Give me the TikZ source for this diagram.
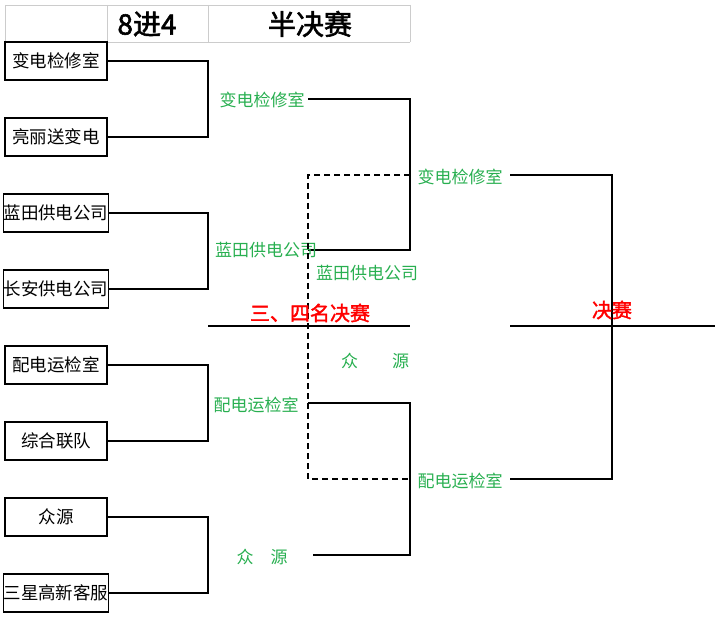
\documentclass[tikz,border=0pt]{standalone}
\usepackage{fontspec}
\setmainfont{Noto Sans CJK SC}[AutoFakeBold=2]
\usetikzlibrary{positioning}
\definecolor{win}{RGB}{40,175,80}
\tikzset{team/.style={draw,line width=1.2pt,minimum width=102pt,minimum height=38pt,inner sep=0pt,font=\fontsize{17.5}{19}\selectfont},
         lab/.style={text=win,font=\fontsize{17}{19}\selectfont,inner sep=1pt},
         head/.style={font=\fontsize{28}{30}\selectfont\bfseries},
         redlab/.style={text=red,font=\fontsize{20}{22}\selectfont\bfseries}}
\begin{document}
\begin{tikzpicture}[x=1pt,y=-1pt,line width=1.2pt]
\useasboundingbox (0,0) rectangle (723,620);
\draw[gray!40,line width=0.6pt] (5,5)--(410,5) (5,42)--(410,42) (107,5)--(107,42) (208,5)--(208,42) (410,5)--(410,42) (5,5)--(5,42);
\node[head] (h1) at (147,24) {8进4};
\node[head] (h2) at (310,24) {半决赛};

\node[team] (t1) at (56,61) {变电检修室};
\node[team] (t2) at (56,137) {亮丽送变电};
\node[team] (t3) at (56,213) {蓝田供电公司};
\node[team] (t4) at (56,289) {长安供电公司};
\node[team] (t5) at (56,365) {配电运检室};
\node[team] (t6) at (56,441) {综合联队};
\node[team] (t7) at (56,517) {众源};
\node[team] (t8) at (56,593) {三星高新客服};

\draw (t1.east)-|(208,100)|-(t2.east);
\draw (t3.east)-|(208,250)|-(t4.east);
\draw (t5.east)-|(208,405)|-(t6.east);
\draw (t7.east)-|(208,555)|-(t8.east);

% 半决赛
\coordinate (q1) at (308,99);
\coordinate (q2) at (308,250);
\coordinate (q3) at (308,403);
\coordinate (q4) at (313,555);
\draw (q1)-|(410,175)|-(q2);
\draw (q3)-|(410,479)|-(q4);
\node[lab] (w1) at (262,100) {变电检修室};
\node[lab] (w2) at (266,250) {蓝田供电公司};
\node[lab] (w3) at (256,405) {配电运检室};
\node[lab] (w4) at (262,557) {众\quad 源};

% 三、四名
\draw[dash pattern=on 6pt off 4pt] (410,175)-|(308,479)--(410,479);
\coordinate (m1) at (208,326);
\coordinate (m2) at (410,326);
\draw (m1)--(m2);
\node[redlab] (r1) at (310,313) {三、四名决赛};
\node[lab] (s1) at (367,273) {蓝田供电公司};
\node[lab] (s2) at (375,361) {众\qquad 源};

% 决赛
\coordinate (f1) at (510,175);
\coordinate (f2) at (510,479);
\draw (f1)-|(612,326)|-(f2);
\coordinate (f3) at (510,326);
\coordinate (f4) at (715,326);
\draw (f3)--(f4);
\node[lab] (w5) at (460,177) {变电检修室};
\node[lab] (w6) at (460,481) {配电运检室};
\node[redlab] (r2) at (612,310) {决赛};
\end{tikzpicture}
\end{document}
